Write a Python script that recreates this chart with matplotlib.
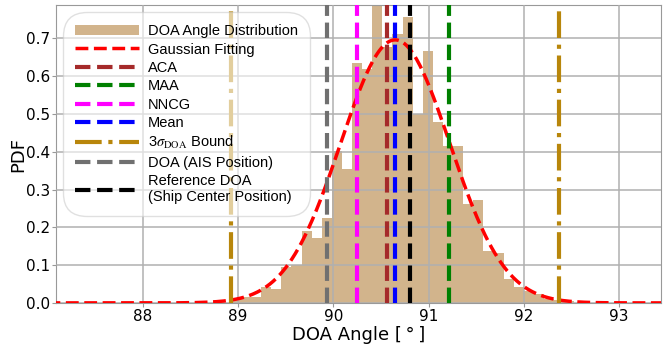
"""Distribución del ángulo DOA con ajuste gaussiano y estimadores."""
import matplotlib
matplotlib.use("Agg")
import matplotlib.pyplot as plt
import numpy as np

# histograma (PDF)
BIN_START = 88.925
BIN_WIDTH = 0.106
PDF_HIST = [0.010, 0.015, 0.015, 0.043, 0.036, 0.094, 0.100, 0.190, 0.173, 0.226,
            0.403, 0.355, 0.634, 0.618, 0.800, 0.677, 0.713, 0.757, 0.500, 0.668,
            0.480, 0.416, 0.416, 0.262, 0.272, 0.138, 0.133, 0.063, 0.041, 0.032,
            0.023, 0.010, 0.008, 0.005]

# ajuste gaussiano
MU = 90.65
SIGMA = 0.573

# estimadores (grados)
ACA = 90.56
MAA = 91.21
NNCG = 90.25
MEDIA = 90.65
DOA_AIS = 89.93
DOA_REF = 90.81
COTAS_3S = [88.93, 92.37]

plt.rcParams.update({
    "font.size": 11,
    "mathtext.fontset": "stix",
})

fig = plt.figure(figsize=(6.63, 3.45), dpi=100)
ax = fig.add_axes([0.0845, 0.122, 0.9125, 0.863])

edges = BIN_START + BIN_WIDTH * np.arange(len(PDF_HIST) + 1)
barras = ax.bar(edges[:-1], PDF_HIST, width=BIN_WIDTH, align="edge", color="tan",
                linewidth=0, zorder=1, label="DOA Angle Distribution")

x = np.linspace(87.0, 93.6, 600)
pdf = np.exp(-0.5 * ((x - MU) / SIGMA) ** 2) / (SIGMA * np.sqrt(2 * np.pi))
ax.plot(x, pdf, "--", color="red", lw=2.5, zorder=3, label="Gaussian Fitting")

lw = 3
ax.axvline(ACA, ls="--", color="brown", lw=lw, zorder=3, label="ACA")
ax.axvline(MAA, ls="--", color="green", lw=lw, zorder=3, label="MAA")
ax.axvline(NNCG, ls="--", color="magenta", lw=lw, zorder=3, label="NNCG")
ax.axvline(MEDIA, ls="--", color="blue", lw=lw, zorder=3, label="Mean")
ax.axvline(COTAS_3S[0], ls="-.", color="darkgoldenrod", lw=lw, zorder=3,
           label=r"3$\sigma_{\mathrm{DOA}}$ Bound")
ax.axvline(COTAS_3S[1], ls="-.", color="darkgoldenrod", lw=lw, zorder=3)
ax.axvline(DOA_AIS, ls="--", color="#707070", lw=lw, zorder=3, label="DOA (AIS Position)")
ax.axvline(DOA_REF, ls="--", color="black", lw=lw, zorder=3,
           label="Reference DOA\n(Ship Center Position)")

ax.set_xlim(87.09, 93.44)
ax.set_ylim(0, 0.788)
ax.set_xticks([88, 89, 90, 91, 92, 93])
ax.set_yticks(np.arange(0, 0.71, 0.1))
ax.set_yticklabels([f"{v:.1f}" for v in np.arange(0, 0.71, 0.1)])
ax.set_axisbelow(False)
ax.grid(True, color="#b0b0b0", lw=1.3, alpha=0.85)
for s in ax.spines.values():
    s.set_color("#999999")
ax.tick_params(colors="black", labelsize=11, length=3, pad=1.5)
ax.tick_params(axis="both", color="#999999")

ax.set_xlabel("DOA Angle [\u2009°\u2009]", fontsize=13, labelpad=1)
ax.set_ylabel("PDF", fontsize=13, labelpad=-1)

handles, labels = ax.get_legend_handles_labels()
orden = [labels.index("DOA Angle Distribution")] + \
        [i for i, l in enumerate(labels) if l != "DOA Angle Distribution"]
leg = ax.legend([handles[i] for i in orden], [labels[i] for i in orden],
                loc="upper left", prop={"family": "Liberation Sans", "size": 10.5},
                handlelength=4.4, handletextpad=0.6, labelspacing=0.3,
                borderpad=0.8, fancybox=True, framealpha=0.6, edgecolor="#cccccc")
leg.get_frame().set_boxstyle("round", pad=0.0, rounding_size=1.6)

fig.savefig("out.png", dpi=100, facecolor="white")
